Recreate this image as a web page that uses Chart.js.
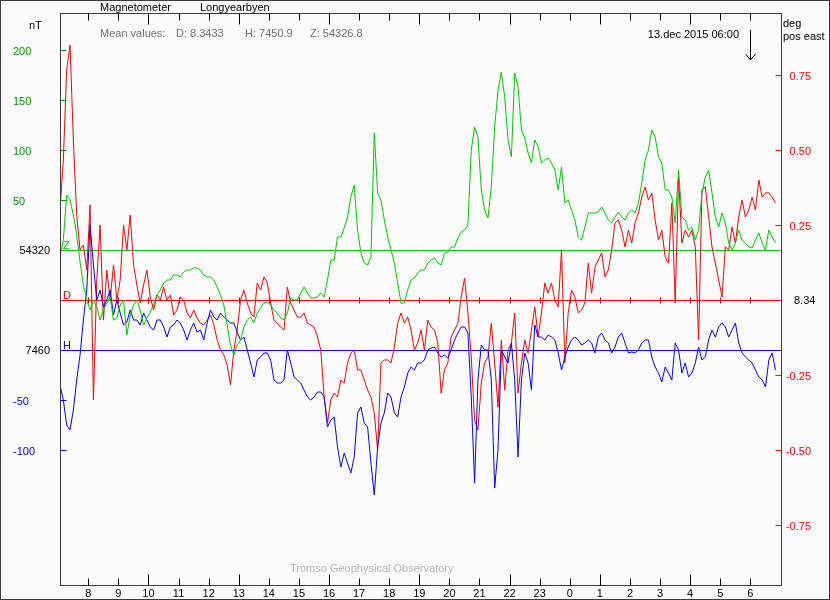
<!DOCTYPE html>
<html>
<head>
<meta charset="utf-8">
<title>Magnetometer Longyearbyen</title>
<script src="https://cdn.jsdelivr.net/npm/chart.js@4.4.1/dist/chart.umd.min.js"></script>
<style>
  html, body { margin: 0; padding: 0; background: #fafafa; }
  #wrap { position: relative; width: 830px; height: 600px; }
</style>
</head>
<body>
<div id="wrap"><canvas id="magneto" width="830" height="600"></canvas></div>
<script>
// sampling of the traces: one value every 1/9 hour from firstHour
const firstHour = 7.06;
const stepHour = 1 / 9;

// baselines and means shown in the picture
const zBase = '54320';
const hBase = '7460';
const dBase = '8.34';
const meanD = '8.3433';
const meanH = '7450.9';
const meanZ = '54326.8';

// Z: deviation from 54320 nT
const zDev = [
	-7, 10, 55, 50, 35, 15, -12, -35, -50, -60, -50, -57, -70, -60, -53, -47, -70, -68, -55, -50,
	-85, -65, -55, -50, -60, -75, -68, -62, -55, -45, -40, -33, -30, -30, -25, -25, -27, -22, -20, -20,
	-18, -18, -20, -25, -27, -27, -30, -37, -45, -55, -75, -95, -105, -95, -90,
	-77, -70, -67, -73, -63, -58, -53, -52, -55, -60, -63, -68, -70, -63, -48, -50, -50, -43, -37, -43,
	-48, -48, -47, -43, -47, -30, -10, -10, 13, 13, 22, 33, 53, 65, 20, -3, -13, -15, -7, 117,
	57, 50, 30, 13, 0, -13, -33, -53, -53, -40, -30, -28, -23, -20,
	-20, -13, -10, -8, -13, -15, -3, -2, 3, 3, 12, 18, 20, 25, 100, 123, 113, 60, 40, 32,
	63, 123, 160, 178, 153, 110, 93, 177, 163, 120, 112, 97, 87, 110, 103, 87, 90, 92, 87, 80,
	60, 83, 47, 50, 40, 30, 13, 10, 23, 37, 37, 37, 38, 43,
	37, 30, 27, 33, 38, 33, 30, 37, 40, 37, 47, 67, 90, 100, 120, 113, 93, 87, 60, 60,
	53, 27, 80, 33, 30, 20, 23, 10, 20, 57, 73, 80, 57, 33, 23, 37, 27, 7, 0, 7,
	20, 10, 7, 3, 2, 10, 17, 7, 0, 20, 13, 7
];

// H: deviation from 7460 nT
const hDev = [
	-35, -50, -75, -80, -60, -30, -5, 30, 60, 125, 85, 50, 60, 43, 50, 60, 35, 50, 37, 25,
	28, 40, 30, 30, 25, 37, 30, 23, 20, 30, 30, 23, 13, 23, 25, 30, 27, 20, 10, 20,
	27, 18, 20, 10, 27, 40, 33, 30, 37, 33, 30, 27, 27, 18, 10,
	13, 0, -13, -27, -10, -7, -3, -3, -10, -30, -33, -33, -30, 0, -13, -27, -30, -33, -40, -47,
	-50, -47, -42, -42, -47, -77, -70, -67, -97, -117, -103, -113, -123, -107, -63, -57, -73, -77, -113, -145,
	-97, -73, -63, -43, -47, -63, -67, -47, -37, -23, -17, -20, -13, -13,
	-10, 0, 2, 3, -3, -7, -5, -8, 0, 10, 17, 23, 23, 17, -47, -133, -30, 5, 0, 0,
	-30, -138, -100, 0, -7, -13, 7, -30, -107, -30, -3, -13, -40, 25, 13, 13, 10, 15, 13, 10,
	-3, -20, -7, 3, 10, 13, 10, 5, 7, 10, 7, -3, 13, 17,
	10, 7, -3, 3, 13, 17, 7, -3, -2, -3, 0, 7, 10, 10, -7, -17, -23, -32, -17, -23,
	-30, 7, 0, -23, -13, -27, -23, -13, 3, -10, -7, 10, 20, 13, 23, 27, 23, 13, 20, 27,
	7, -3, -7, -10, -13, -20, -27, -30, -37, -10, -3, -20
];

// D: deviation from 8.34 deg (positive east)
const dDev = [
	0.300, 0.467, 0.767, 0.850, 0.533, 0.283, 0.167, 0.183, 0.100, 0.317,
	-0.333, 0.067, 0.250, -0.067, 0.100, 0, 0.117, 0, 0.067, 0.250,
	0.167, 0.283, 0.117, 0.050, -0.010, 0.050, 0.100, 0.010, -0.033, 0.017,
	0, 0.043, 0, 0.017, -0.050, -0.033, 0.010, 0, -0.043, -0.060,
	-0.033, -0.060, -0.077, -0.083, -0.067, -0.050, -0.083, -0.133, -0.167, -0.183,
	-0.217, -0.283, -0.167, -0.100, 0,
	0.033, -0.010, -0.043, -0.057, 0.057, 0.033, 0.077, 0.057, -0.010, -0.067,
	-0.077, -0.090, -0.100, 0.043, -0.010, -0.033, -0.057, -0.057, -0.043, -0.077,
	-0.083, -0.090, -0.123, -0.167, -0.323, -0.410, -0.333, -0.310, -0.323, -0.267,
	-0.277, -0.210, -0.177, -0.167, -0.233, -0.233, -0.267, -0.300, -0.323, -0.377,
	-0.500, -0.210, -0.200, -0.200, -0.210, -0.157, -0.077, -0.043, -0.077, -0.057,
	-0.100, -0.167, -0.143, -0.100,
	-0.167, -0.067, -0.090, -0.100, -0.143, -0.310, -0.233, -0.210, -0.123, -0.100,
	-0.077, 0.010, 0.073, -0.043, -0.190, -0.400, -0.433, -0.277, -0.210, -0.190,
	-0.077, -0.210, -0.357, -0.133, -0.300, -0.167, -0.143, -0.043, -0.310, -0.210,
	-0.133, -0.177, -0.100, -0.023, -0.123, -0.043, 0.057, 0.023, 0.057, 0,
	-0.023, 0.167, -0.210, -0.043, 0.033, 0.010, -0.043, -0.033, -0.010, 0.123,
	0.023, 0.110, 0.133, 0.157,
	0.077, 0.100, 0.167, 0.257, 0.267, 0.233, 0.177, 0.233, 0.190, 0.257,
	0.290, 0.343, 0.377, 0.333, 0.357, 0.267, 0.200, 0.233, 0.143, 0.123,
	0.323, -0.010, 0.410, 0.190, 0.233, 0.210, 0.233, 0.177, -0.133, 0.367,
	0.377, 0.277, 0.177, 0.123, 0.067, 0.010, 0.177, 0.167, 0.243, 0.190,
	0.277, 0.333, 0.277, 0.300, 0.343, 0.300, 0.400, 0.343, 0.357, 0.357,
	0.343, 0.323
];

// axis ticks
const hourTicks = [8, 9, 10, 11, 12, 13, 14, 15, 16, 17, 18, 19, 20, 21, 22, 23, 24, 25, 26, 27, 28, 29, 30];
const hourLabels = ['8', '9', '10', '11', '12', '13', '14', '15', '16', '17', '18', '19', '20', '21', '22', '23', '0', '1', '2', '3', '4', '5', '6'];
const zTicks = [200, 150, 100, 50];
const hTicks = [-50, -100];
const degTicks = [0.75, 0.5, 0.25, -0.25, -0.5, -0.75];
const degLabels = ['0.75', '0.50', '0.25', '-0.25', '-0.50', '-0.75'];
const markHour = 30; // 13.dec 2015 06:00

const font = '11px "Liberation Sans", Arial, sans-serif';
const zLine = '#00c800';
const zText = '#009600';
const dLine = '#ff0000';
const hLine = '#0000ff';
const ink = '#000000';
const frame = '#3c3c3c';

function points(values) {
	return values.map((v, i) => ({ x: firstHour + i * stepHour, y: v }));
}

function text(ctx, str, x, y, color, align) {
	ctx.fillStyle = color;
	ctx.textAlign = align || 'left';
	ctx.fillText(str, x, y);
}

const decor = {
	id: 'decor',
	beforeDatasetsDraw(chart) {
		const { ctx, chartArea: a, scales } = chart;
		ctx.save();
		ctx.lineWidth = 1;
		[[scales.yZ, zLine], [scales.yD, dLine], [scales.yH, hLine]].forEach(([s, c]) => {
			const y = Math.round(s.getPixelForValue(0)) + 0.5;
			ctx.strokeStyle = c;
			ctx.beginPath();
			ctx.moveTo(a.left, y);
			ctx.lineTo(a.right, y);
			ctx.stroke();
		});
		// hour marks on the D baseline
		const yd = Math.round(scales.yD.getPixelForValue(0)) + 0.5;
		ctx.strokeStyle = '#c00000';
		hourTicks.forEach((h) => {
			const x = Math.round(scales.x.getPixelForValue(h)) + 0.5;
			ctx.beginPath();
			ctx.moveTo(x, yd - 3);
			ctx.lineTo(x, yd + 3);
			ctx.stroke();
		});
		ctx.restore();
	},
	afterDraw(chart) {
		const { ctx, chartArea: a, scales } = chart;
		const L = Math.round(a.left) + 0.5;
		const R = Math.round(a.right) + 0.5;
		const T = Math.round(a.top) + 0.5;
		const B = Math.round(a.bottom) - 0.5;
		ctx.save();
		ctx.lineWidth = 1;

		// plot frame
		ctx.strokeStyle = frame;
		ctx.strokeRect(L, T, R - L, B - T);

		// hour ticks, top and bottom
		ctx.strokeStyle = ink;
		hourTicks.forEach((h) => {
			const x = Math.round(scales.x.getPixelForValue(h)) + 0.5;
			const len = h % 3 === 1 ? 11 : 7;
			ctx.beginPath();
			ctx.moveTo(x, T);
			ctx.lineTo(x, T + len);
			ctx.moveTo(x, B);
			ctx.lineTo(x, B - len);
			ctx.stroke();
		});

		ctx.font = font;
		ctx.textBaseline = 'alphabetic';

		// left axis: Z above, H below
		zTicks.forEach((v) => {
			const y = Math.round(scales.yZ.getPixelForValue(v)) + 0.5;
			ctx.strokeStyle = zText;
			ctx.beginPath();
			ctx.moveTo(L, y);
			ctx.lineTo(L + 6, y);
			ctx.stroke();
			text(ctx, String(v), 13, y + 4, zText);
		});
		hTicks.forEach((v) => {
			const y = Math.round(scales.yH.getPixelForValue(v)) + 0.5;
			ctx.strokeStyle = hLine;
			ctx.beginPath();
			ctx.moveTo(L, y);
			ctx.lineTo(L + 6, y);
			ctx.stroke();
			text(ctx, String(v), 13, y + 4, hLine);
		});
		const yz0 = scales.yZ.getPixelForValue(0);
		const yh0 = scales.yH.getPixelForValue(0);
		const yd0 = scales.yD.getPixelForValue(0);
		text(ctx, zBase, 50, yz0 + 4, ink, 'right');
		text(ctx, hBase, 50, yh0 + 4, ink, 'right');
		text(ctx, 'Z', 63, yz0 - 1, zLine);
		text(ctx, 'D', 63, yd0 - 1, dLine);
		text(ctx, 'H', 63, yh0 - 1, hLine);

		// right axis: D in degrees
		degTicks.forEach((v, i) => {
			const y = Math.round(scales.yD.getPixelForValue(v)) + 0.5;
			ctx.strokeStyle = dLine;
			ctx.beginPath();
			ctx.moveTo(R - 6, y);
			ctx.lineTo(R, y);
			ctx.stroke();
			text(ctx, degLabels[i], 811, y + 4, dLine, 'right');
		});
		text(ctx, dBase, 794, yd0 + 4, ink);

		// titles and notes
		text(ctx, 'Magnetometer', 100, 11, ink);
		text(ctx, 'Longyearbyen', 200, 11, ink);
		text(ctx, 'nT', 29, 29, ink);
		text(ctx, 'deg', 783, 27, ink);
		text(ctx, 'pos east', 783, 40, ink);
		text(ctx, 'Mean values:', 100, 37, '#707070');
		text(ctx, 'D: ' + meanD, 176, 37, '#707070');
		text(ctx, 'H: ' + meanH, 245, 37, '#707070');
		text(ctx, 'Z: ' + meanZ, 310, 37, '#707070');
		text(ctx, '13.dec 2015 06:00', 739, 38, ink, 'right');
		text(ctx, 'Tromso Geophysical Observatory', 290, 572, '#b4b4b4');

		// arrow at the mark time
		const xm = Math.round(scales.x.getPixelForValue(markHour)) + 0.5;
		ctx.strokeStyle = ink;
		ctx.beginPath();
		ctx.moveTo(xm, 30);
		ctx.lineTo(xm, 60);
		ctx.moveTo(xm - 5, 54);
		ctx.lineTo(xm, 60);
		ctx.lineTo(xm + 5, 54);
		ctx.stroke();

		// outer frame
		ctx.strokeStyle = frame;
		ctx.strokeRect(0.5, 0.5, chart.width - 1, chart.height - 1);
		ctx.restore();
	}
};

new Chart(document.getElementById('magneto'), {
	type: 'line',
	data: {
		datasets: [
			{ label: 'Z', data: points(zDev), yAxisID: 'yZ', borderColor: zLine },
			{ label: 'H', data: points(hDev), yAxisID: 'yH', borderColor: hLine },
			{ label: 'D', data: points(dDev), yAxisID: 'yD', borderColor: dLine },
		],
	},
	options: {
		responsive: false,
		animation: false,
		devicePixelRatio: 1,
		layout: { padding: { top: 13 } },
		elements: {
			line: { borderWidth: 1, tension: 0, fill: false },
			point: { radius: 0, hoverRadius: 0 },
		},
		plugins: {
			legend: { display: false },
			tooltip: { enabled: false },
		},
		events: [],
		scales: {
			x: {
				type: 'linear',
				position: 'bottom',
				min: 7.06,
				max: 31.02,
				afterBuildTicks: (s) => {
					s.ticks = hourTicks.map((v) => ({ value: v }));
				},
				afterFit: (s) => {
					s.height = 14;
				},
				grid: { display: false, drawTicks: false },
				border: { display: false },
				ticks: {
					autoSkip: false,
					maxRotation: 0,
					padding: 1,
					color: ink,
					font: { family: '"Liberation Sans", Arial, sans-serif', size: 11 },
					callback: (v) => hourLabels[hourTicks.indexOf(v)],
				},
			},
			yZ: {
				type: 'linear',
				position: 'left',
				min: -336,
				max: 237,
				afterFit: (s) => {
					s.width = 60;
				},
				grid: { display: false, drawTicks: false },
				border: { display: false },
				ticks: { display: false },
			},
			yH: {
				type: 'linear',
				display: false,
				min: -236,
				max: 337,
			},
			yD: {
				type: 'linear',
				position: 'right',
				min: -0.9533,
				max: 0.9567,
				afterFit: (s) => {
					s.width = 49;
				},
				grid: { display: false, drawTicks: false },
				border: { display: false },
				ticks: { display: false },
			},
		},
	},
	plugins: [decor],
});
</script>
</body>
</html>
